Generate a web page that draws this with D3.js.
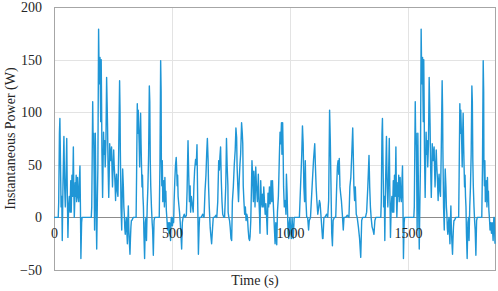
<!DOCTYPE html>
<html>
<head>
<meta charset="utf-8">
<script src="https://cdn.jsdelivr.net/npm/d3@7"></script>
<style>
  body { margin: 0; background: #fff; }
  svg text { font-family: "Liberation Serif", "Times New Roman", serif; font-size: 14px; fill: #262626; }
</style>
</head>
<body>
<svg id="chart" width="498" height="291"></svg>
<script>
// first lap, 0 - 497 s
var timeA = [0,18,20,23,25,27,30,33,35,38,42,45,48,51,54,56,59,62,65,68,71,73,76,79,82,84,86,88,90,92,94,96,98,100,102,105,107,110,112,114,117,119,158,
  160,162,164,166,168,170,172,175,178,181,184,186,189,191,192,194,195,197,198,200,202,203,206,208,210,212,215,217,220,223,225,227,229,232,234,236,238,240,242,244,
  246,248,250,253,255,257,259,261,263,265,268,271,274,278,280,281,283,284,287,289,291,294,296,298,300,302,305,307,309,311,313,315,317,319,322,324,326,328,330,336,347,
  348,350,353,355,357,359,361,363,365,367,369,371,373,375,377,379,381,384,387,390,392,395,398,401,404,406,408,410,413,416,418,421,424,427,446,449,452,454,455,457,
  459,461,465,468,470,472,474,476,479,481,484,487,490,494,497];
var powerA = [0,0,15,80,94,60,10,20,-22,30,77,30,10,40,75,30,-19,10,20,5,35,5,40,20,67,25,0,15,33,20,40,15,25,38,20,15,30,49,10,-39,-5,0,0,
  10,60,110,70,80,41,-12,80,15,-30,20,48,179,140,127,150,152,110,91,150,100,64,19,50,81,60,73,48,70,133,110,86,50,19,40,70,60,54,62,67,
  45,29,45,64,50,41,30,16,35,41,25,20,60,130,100,67,30,10,-12,20,46,29,10,3,-10,-16,-5,0,-15,-25,-5,11,-10,-22,-35,-20,-9,-3,-3,0,0,
  0,40,108,80,102,85,70,48,80,99,70,48,29,40,20,10,-15,-39,-5,0,-22,10,29,60,125,110,54,30,10,-5,-12,-36,-3,0,0,50,149,120,54,30,
  54,15,35,10,38,15,25,7,-3,-12,-5,-15,-5,-22,0];

// first lap, 499 - 1105 s
var timeB = [499,502,505,507,509,512,515,518,520,522,524,526,529,532,535,538,541,544,547,552,556,561,564,566,568,571,574,577,579,582,
  586,590,593,596,600,603,606,609,612,615,617,624,630,636,640,644,647,650,653,655,658,662,665,668,672,675,680,686,690,694,
  698,701,703,706,709,712,715,720,723,728,731,734,737,
  738,741,744,747,750,753,756,760,764,768,771,774,776,779,782,785,788,791,795,798,800,802,805,808,811,814,817,820,823,826,
  829,831,834,837,839,842,845,847,850,852,855,858,862,866,868,871,873,876,879,882,884,887,889,892,895,898,901,904,907,910,
  913,916,920,923,926,930,934,937,940,944,947,951,955,958,961,964,966,969,971,973,976,980,983,985,988,990,992,995,997,1000,
  1003,1006,1009,1014,1018,1040,1045,1050,1053,1056,1059,1062,1065,1068,1071,1075,1079,1082,1087,1094,1100,1105];
var powerB = [0,-8,0,-5,15,35,50,57,45,30,40,20,12,5,-5,-16,-30,-5,0,3,0,2,25,50,73,40,15,30,5,20,
  12,5,30,45,55,50,69,15,-35,-10,0,0,3,0,25,40,60,75,55,30,10,-10,-18,-25,-10,0,0,2,0,15,
  54,45,57,67,35,15,3,0,0,30,75,48,30,
  5,0,-3,-10,-20,-22,15,29,50,64,85,76,48,30,15,35,50,60,90,80,70,30,15,3,10,-3,3,0,-12,-20,
  -22,-18,-3,30,54,38,15,44,30,10,48,30,15,41,20,3,-15,35,15,10,22,10,29,15,3,13,0,-16,23,10,
  29,13,35,15,35,10,-10,-25,-5,-26,5,20,57,81,70,90,60,90,64,29,10,16,3,41,22,3,-15,-20,-5,0,
  -12,-20,0,-20,0,0,30,60,87,70,29,15,54,15,0,0,-12,-3,0,30,55,70];

// first lap, 1108 - 1367 s
var timeC = [1108,1111,1114,1118,1122,1125,1128,1131,1135,1138,1140,1144,1148,1155,1160,1164,1168,1171,1174,1177,
  1180,1183,1188,1194,1198,1201,1204,1207,1209,1212,1215,1218,1222,1226,1229,1236,1243,1250,1254,1258,
  1262,1266,1268,1271,1274,1277,1281,1285,1290,1295,1300,1304,1308,1320,1325,1330,1335,1338,1341,1344,
  1348,1352,1356,1360,1364,1367];
var powerC = [48,29,16,3,10,16,13,3,-10,-20,-20,0,0,3,0,16,102,73,29,-15,
  -27,-3,0,0,29,48,54,41,56,29,22,16,3,-12,0,0,2,0,29,38,
  60,85,64,29,16,29,3,0,-9,-20,-38,-3,0,0,5,29,59,29,10,0,
  -9,-12,-16,-3,0,0];

// second lap, 1385 - 1869 s
var timeD = [1385,1387,1390,1392,1394,1397,1400,1402,1405,1409,1412,1415,1418,1421,1423,1426,1429,1432,1435,1438,1440,1443,1446,1449,1451,1453,1455,1457,1459,1461,1463,1465,1467,1469,1472,1474,1477,1479,1481,1484,1486,1525,
  1527,1529,1531,1533,1535,1537,1539,1542,1545,1548,1551,1553,1556,1558,1559,1561,1562,1564,1565,1567,1569,1570,1573,1575,1577,1579,1582,1584,1587,1590,1592,1594,1596,1599,1601,1603,1605,1607,1609,1611,
  1613,1615,1617,1620,1622,1624,1626,1628,1630,1632,1635,1638,1641,1645,1647,1648,1650,1651,1654,1656,1658,1661,1663,1665,1667,1669,1672,1674,1676,1678,1680,1682,1684,1686,1689,1691,1693,1695,1697,1703,1714,
  1715,1717,1720,1722,1724,1726,1728,1730,1732,1734,1736,1738,1740,1742,1744,1746,1748,1751,1754,1757,1759,1762,1765,1768,1771,1773,1775,1777,1780,1783,1785,1788,1791,1794,1813,1816,1819,1821,1822,1824,
  1826,1828,1832,1835,1837,1839,1841,1843,1846,1848,1851,1854,1857,1861,1864,1866,1869];
var powerD = [0,15,80,94,60,10,20,-22,30,77,30,10,40,75,30,-19,10,20,5,35,5,40,20,67,25,0,15,33,20,40,15,25,38,20,15,30,49,10,-39,-5,0,0,
  10,60,110,70,80,41,-12,80,15,-30,20,48,179,140,127,150,152,110,91,150,100,64,19,50,81,60,73,48,70,133,110,86,50,19,40,70,60,54,62,67,
  45,29,45,64,50,41,30,16,35,41,25,20,60,130,100,67,30,10,-12,20,46,29,10,3,-10,-16,-5,0,-15,-25,-5,11,-10,-22,-35,-20,-9,-3,-3,0,0,
  0,40,108,80,102,85,70,48,80,99,70,48,29,40,20,10,-15,-39,-5,0,-22,10,29,60,125,110,54,30,10,-5,-12,-36,-3,0,0,50,149,120,54,30,
  54,15,35,10,38,15,25,7,-3,-12,-5,-15,-5,-22,0,0,-25];

var xTicks = [0, 500, 1000, 1500],
    yTicks = [-50, 0, 50, 100, 150, 200],
    xTitle = "Time (s)",
    yTitle = "Instantaneous Power (W)";

var series = d3.zip(timeA.concat(timeB, timeC, timeD), powerA.concat(powerB, powerC, powerD))
  .map(function(d) { return {t: d[0], p: d[1]}; });

var plotLeft = 54, plotRight = 495, plotTop = 7, plotBottom = 270;

var x = d3.scaleLinear().domain([0, 1869]).range([plotLeft, plotRight]);
var y = d3.scaleLinear().domain([-50, 200]).range([plotBottom, plotTop]);

var svg = d3.select("#chart");

// gridlines
svg.append("g").selectAll("line")
    .data([50, 100, 150])
  .enter().append("line")
    .attr("x1", plotLeft).attr("x2", plotRight)
    .attr("y1", function(d) { return Math.round(y(d)) + 0.5; })
    .attr("y2", function(d) { return Math.round(y(d)) + 0.5; })
    .style("stroke", "#e3e3e3");

svg.append("g").selectAll("line")
    .data(xTicks.slice(1))
  .enter().append("line")
    .attr("y1", plotTop).attr("y2", plotBottom)
    .attr("x1", function(d) { return Math.round(x(d)) + 0.5; })
    .attr("x2", function(d) { return Math.round(x(d)) + 0.5; })
    .style("stroke", "#e3e3e3");

svg.append("rect")
    .attr("x", plotLeft + 0.5).attr("y", plotTop + 0.5)
    .attr("width", plotRight - plotLeft).attr("height", plotBottom - plotTop)
    .style("fill", "none")
    .style("stroke", "#a6a6a6");

svg.append("line")
    .attr("x1", plotLeft).attr("x2", plotRight)
    .attr("y1", Math.round(y(0)) + 0.5).attr("y2", Math.round(y(0)) + 0.5)
    .style("stroke", "#8c8c8c");

var line = d3.line()
    .x(function(d) { return x(d.t); })
    .y(function(d) { return y(d.p); });

svg.append("path")
    .datum(series)
    .attr("d", line)
    .style("fill", "none")
    .style("stroke", "#1f96d6")
    .style("stroke-width", 1.4)
    .style("stroke-linejoin", "round");

// axes, drawn over the trace
var yAxis = svg.append("g")
    .attr("transform", "translate(" + plotLeft + ",0)")
    .call(d3.axisLeft(y).tickValues(yTicks).tickSize(0).tickPadding(12));
yAxis.select(".domain").remove();

var xAxis = svg.append("g")
    .attr("transform", "translate(0," + y(0) + ")")
    .call(d3.axisBottom(x).tickValues(xTicks).tickSize(0).tickPadding(11).tickFormat(d3.format("d")));
xAxis.select(".domain").remove();

svg.selectAll(".tick text").attr("font-family", null).attr("font-size", null);

svg.append("text")
    .attr("transform", "translate(15," + ((plotTop + plotBottom) / 2) + ") rotate(-90)")
    .attr("text-anchor", "middle")
    .text(yTitle);

svg.append("text")
    .attr("x", 255)
    .attr("y", 285)
    .attr("text-anchor", "middle")
    .text(xTitle);
</script>
</body>
</html>
